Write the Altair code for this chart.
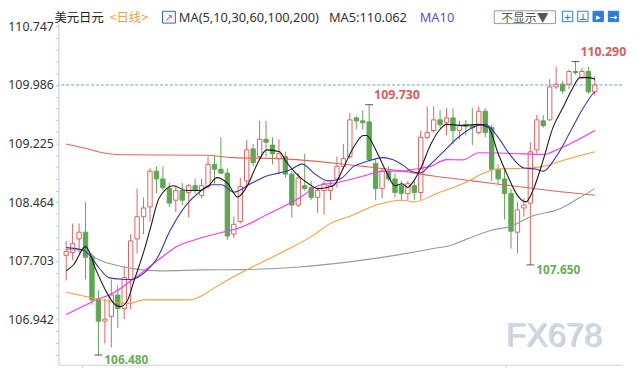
import altair as alt
import pandas as pd

FONT = "Noto Sans"
CJK = "Noto Sans CJK SC"
RED = "#e4605e"
GREEN = "#5ea652"

# ---- daily candles (USD/JPY) ----
opens = [107.774, 107.812, 107.987, 108.075, 107.761, 107.196, 106.920, 106.982, 107.259, 107.083,
         107.460, 107.987, 108.276, 108.402, 108.867, 108.766, 108.640, 108.490, 108.615, 108.590,
         108.678, 108.553, 108.666, 108.955, 108.892, 108.842, 108.050, 108.213, 108.741, 109.156,
         109.055, 109.281, 109.206, 109.030, 109.055, 108.829, 108.427, 108.678, 108.653, 108.527,
         108.615, 108.615, 108.766, 108.929, 109.055, 109.558, 109.520, 109.507, 108.967, 108.640,
         108.867, 108.766, 108.678, 108.578, 108.678, 108.590, 109.306, 109.394, 109.533, 109.495,
         109.558, 109.394, 109.470, 109.457, 109.369, 109.645, 109.432, 108.892, 108.766, 108.578,
         108.075, 108.389, 108.452, 109.143, 109.520, 109.533, 109.960, 109.997, 109.997, 110.161,
         110.085, 110.161, 109.897]
closes = [107.825, 107.925, 108.075, 107.749, 107.196, 106.920, 106.945, 107.259, 107.083, 107.485,
          107.962, 108.276, 108.389, 108.867, 108.766, 108.653, 108.452, 108.615, 108.490, 108.678,
          108.615, 108.678, 108.955, 108.892, 108.842, 108.025, 108.176, 108.666, 109.143, 108.980,
          109.281, 109.243, 109.093, 109.093, 108.829, 108.427, 108.779, 108.640, 108.527, 108.615,
          108.703, 108.678, 108.929, 109.030, 109.533, 109.520, 109.495, 109.017, 108.640, 108.867,
          108.766, 108.590, 108.578, 108.703, 108.590, 109.306, 109.369, 109.533, 109.470, 109.558,
          109.394, 109.457, 109.445, 109.432, 109.645, 109.369, 108.892, 108.766, 108.578, 108.088,
          108.364, 108.427, 109.118, 109.533, 109.457, 109.960, 109.997, 109.909, 110.161, 110.148,
          110.161, 109.897, 109.986]
highs = [107.962, 108.188, 108.188, 108.465, 107.799, 107.321, 107.208, 107.460, 107.384, 107.636,
         108.050, 108.640, 108.527, 108.904, 108.929, 108.929, 108.716, 108.678, 108.716, 108.703,
         108.766, 108.766, 109.055, 109.080, 109.306, 108.904, 108.276, 108.779, 109.269, 109.218,
         109.520, 109.520, 109.306, 109.281, 109.118, 108.867, 108.842, 109.093, 108.741, 108.653,
         108.741, 108.741, 109.055, 109.218, 109.620, 109.583, 109.658, 109.730, 109.030, 108.904,
         108.929, 108.842, 108.741, 108.741, 108.741, 109.394, 109.708, 109.708, 109.658, 109.683,
         109.683, 109.520, 109.533, 109.683, 109.708, 109.683, 109.470, 108.955, 108.892, 108.640,
         108.465, 108.515, 109.243, 109.595, 109.595, 110.060, 110.223, 110.035, 110.186, 110.290,
         110.211, 110.223, 110.098]
lows = [107.448, 107.711, 107.799, 107.460, 107.133, 106.480, 106.631, 106.580, 106.832, 106.945,
        107.070, 107.799, 108.050, 108.213, 108.578, 108.615, 108.402, 108.339, 108.427, 108.264,
        108.578, 108.515, 108.640, 108.703, 108.829, 107.975, 108.000, 108.188, 108.678, 108.929,
        109.017, 109.055, 108.955, 108.829, 108.779, 108.264, 108.402, 108.615, 108.490, 108.326,
        108.301, 108.490, 108.653, 108.892, 109.030, 109.407, 109.407, 108.992, 108.490, 108.515,
        108.741, 108.527, 108.490, 108.490, 108.490, 108.490, 109.281, 109.369, 109.432, 109.331,
        109.218, 109.281, 109.331, 109.206, 109.344, 109.306, 108.741, 108.703, 108.239, 107.862,
        107.799, 108.276, 107.650, 109.093, 109.432, 109.520, 109.934, 109.872, 109.934, 110.123,
        110.060, 109.872, 109.847]

# ---- moving averages (candle index, price) ----
ma5_x = [0, 1.15, 3.0, 4.6, 6.1, 7.6, 8.4, 9.4, 10.6, 12.1, 13.1, 14.4, 16.6, 18.6, 20.6, 22.1, 23.4,
         24.1, 25.1, 26.6, 28.1, 29.6, 31.1, 33.1, 34.1, 35.6, 37.6, 39.1, 40.6, 41.6, 43.1, 44.6, 46.1,
         46.6, 48.1, 49.6, 51.0, 52.1, 53.0, 53.7, 55.0, 56.5, 58.0, 59.0, 61.5, 64.0, 65.5, 67.0, 68.5,
         70.0, 71.3, 72.5, 74.0, 75.5, 77.0, 78.5, 79.7, 81.0, 82.0]
ma5_v = [107.573, 107.652, 107.887, 107.589, 107.321, 107.133, 107.108, 107.171, 107.464, 107.841,
         108.138, 108.515, 108.678, 108.615, 108.615, 108.678, 108.783, 108.766, 108.703, 108.531,
         108.678, 108.955, 109.143, 109.118, 108.992, 108.842, 108.703, 108.640, 108.657, 108.691,
         108.929, 109.181, 109.331, 109.331, 109.130, 108.867, 108.678, 108.703, 108.657, 108.716,
         108.904, 109.206, 109.411, 109.474, 109.461, 109.474, 109.432, 109.097, 108.804, 108.553,
         108.468, 108.637, 109.014, 109.432, 109.683, 109.934, 110.081, 110.081, 110.062]
ma10_x = [0, 2.65, 3.6, 5.1, 6.6, 8.6, 10.1, 12.1, 14.1, 16.1, 18.6, 20.6, 22.6, 24.1, 26.0, 28.6, 31.1,
          33.1, 34.6, 36.6, 38.6, 40.6, 42.5, 44.6, 46.6, 49.1, 50.6, 52.5, 53.5, 55.0, 56.5, 58.5, 60.5,
          63.0, 65.0, 67.0, 68.7, 71.0, 73.0, 74.0, 76.0, 78.0, 79.9, 81.7, 82.0]
ma10_v = [107.874, 107.841, 107.778, 107.610, 107.485, 107.464, 107.460, 107.548, 107.736, 108.092,
          108.427, 108.590, 108.691, 108.691, 108.594, 108.703, 108.804, 108.845, 108.879, 108.958,
          108.829, 108.741, 108.766, 108.929, 108.992, 109.043, 109.017, 108.929, 108.867, 108.845,
          108.955, 109.118, 109.285, 109.432, 109.474, 109.306, 109.097, 108.908, 108.892, 108.867,
          109.055, 109.348, 109.645, 109.872, 109.900]
ma30_x = [0, 3.1, 4.6, 7.1, 10.1, 12.1, 14.6, 17.1, 19.6, 23.1, 27.1, 31.1, 36.1, 39.1, 42.1, 46.1, 49.1,
          52.1, 54.0, 56.5, 59.0, 61.5, 64.0, 69.0, 74.0, 76.5, 82.0]
ma30_v = [107.007, 107.133, 107.196, 107.275, 107.447, 107.573, 107.736, 107.887, 107.966, 108.050,
          108.138, 108.301, 108.515, 108.678, 108.720, 108.804, 108.867, 108.867, 108.892, 108.929,
          109.017, 109.013, 109.105, 109.097, 109.084, 109.159, 109.394]
ma60_x = [0, 4.6, 7.1, 9.6, 12.1, 19.1, 20.6, 23.6, 27.1, 33.1, 38.6, 40.7, 44.6, 48.1, 52.1, 54.0, 57.5,
          61.5, 64.5, 66.5, 71.6, 74.0, 76.5, 82.0]
ma60_v = [107.296, 107.212, 107.171, 107.149, 107.196, 107.196, 107.233, 107.384, 107.548, 107.799,
          108.050, 108.176, 108.301, 108.427, 108.490, 108.468, 108.578, 108.703, 108.829, 108.892,
          108.908, 108.929, 108.992, 109.118]
ma100_x = [0, 3.0, 4.6, 7.6, 10.6, 14.6, 21.1, 27.1, 36.1, 43.6, 51.0, 57.0, 60.0, 61.5, 66.0, 69.0, 72.0,
           76.5, 79.5, 82.0]
ma100_v = [107.849, 107.837, 107.736, 107.648, 107.598, 107.573, 107.585, 107.589, 107.623, 107.686,
           107.774, 107.862, 107.912, 107.962, 108.100, 108.151, 108.276, 108.377, 108.515, 108.640]
ma200_x = [0, 2.1, 6.6, 8.7, 21.6, 26.0, 33.1, 42.1, 46.1, 52.1, 57.0, 63.0, 69.0, 75.0, 82.0]
ma200_v = [109.218, 109.181, 109.093, 109.080, 109.074, 109.043, 109.030, 108.967, 108.929, 108.867,
           108.804, 108.741, 108.678, 108.615, 108.553]

y_ticks = [110.747, 109.986, 109.225, 108.464, 107.703, 106.942]
x_ticks = [2.5, 68.2]
last_price = [109.986]
hi_idx, hi_val, hi_txt = [47, 79], [109.730, 110.290], ["109.730", "110.290"]
lo_idx, lo_val, lo_txt = [72, 5], [107.650, 106.480], ["107.650", "106.480"]

# ---- frames ----
idx = list(range(len(opens)))
candles = pd.DataFrame({"i": idx, "open": opens, "close": closes, "high": highs, "low": lows})
up = candles[candles["close"] >= candles["open"]]
down = candles[candles["close"] < candles["open"]]

# minor ticks between major labels
majors = sorted(y_ticks)
step = (majors[1] - majors[0]) / 5
tick_vals = list(majors)
for a, b in zip(majors[:-1], majors[1:]):
    tick_vals += [a + (b - a) * k / 5 for k in range(1, 5)]
tick_vals += [majors[0] - step * k for k in range(1, 4)]

label_list = ",".join("'%.3f'" % v for v in y_ticks)
label_expr = "indexof([%s], format(datum.value, '.3f')) >= 0 ? format(datum.value, '.3f') : ''" % label_list

xs = alt.Scale(domain=[-0.45, 85.47], nice=False, zero=False)
ys = alt.Scale(domain=[106.354, 110.789], nice=False, zero=False)
xaxis = alt.Axis(values=x_ticks, labels=False, title=None, grid=False, tickSize=5,
                 tickColor="#c9d3de", domainColor="#c9d3de")
yaxis = alt.Axis(values=tick_vals, labelExpr=label_expr, title=None, grid=False, tickSize=3,
                 tickColor="#b7cbe3", domainColor="#b7cbe3", labelColor="#333333",
                 labelFont=FONT, labelFontSize=12.5, labelPadding=2, labelOverlap=False)


def X(field="i"):
    return alt.X(field + ":Q", scale=xs, axis=xaxis)


def Y(field):
    return alt.Y(field + ":Q", scale=ys, axis=yaxis)


layers = []
# wicks
layers.append(alt.Chart(up).mark_rule(color=RED, strokeWidth=1).encode(x=X(), y=Y("low"), y2="high:Q"))
layers.append(alt.Chart(down).mark_rule(color=GREEN, strokeWidth=1).encode(x=X(), y=Y("low"), y2="high:Q"))
# bodies
layers.append(alt.Chart(down).mark_bar(fill=GREEN, stroke=GREEN, strokeWidth=1, size=4.4)
              .encode(x=X(), y=Y("open"), y2="close:Q"))
layers.append(alt.Chart(up).mark_bar(fill="#ffffff", stroke=RED, strokeWidth=1, size=4.4)
              .encode(x=X(), y=Y("open"), y2="close:Q"))

# moving averages
ma_sets = [
    (ma200_x, ma200_v, "#e8625c"),
    (ma100_x, ma100_v, "#9a9a9a"),
    (ma60_x, ma60_v, "#ff9a3a"),
    (ma30_x, ma30_v, "#ff30ff"),
    (ma10_x, ma10_v, "#3636b4"),
    (ma5_x, ma5_v, "#1a1a1a"),
]
for xv, vv, col in ma_sets:
    df = pd.DataFrame({"i": xv[:len(vv)], "v": vv[:len(xv)]})
    layers.append(alt.Chart(df).mark_line(color=col, strokeWidth=1.1, interpolate="monotone")
                  .encode(x=X(), y=Y("v")))

# last price dashed line
layers.append(alt.Chart(pd.DataFrame({"p": last_price}))
              .mark_rule(color="#5b9fe6", strokeDash=[3, 2], strokeWidth=1)
              .encode(y=Y("p")))

# extreme markers and labels
hi_df = pd.DataFrame({"i": hi_idx, "v": hi_val, "t": hi_txt})
lo_df = pd.DataFrame({"i": lo_idx, "v": lo_val, "t": lo_txt})
for df in (hi_df, lo_df):
    layers.append(alt.Chart(df).mark_tick(orient="horizontal", size=8, thickness=1, color="#111111")
                  .encode(x=X(), y=Y("v")))
layers.append(alt.Chart(hi_df).mark_text(align="left", baseline="middle", dx=5, dy=-10, font=FONT,
                                          fontSize=12.5, fontWeight="bold", color="#e05a58")
              .encode(x=X(), y=Y("v"), text="t:N"))
layers.append(alt.Chart(lo_df).mark_text(align="left", baseline="middle", dx=6, dy=5, font=FONT,
                                          fontSize=12, fontWeight="bold", color="#68ad55")
              .encode(x=X(), y=Y("v"), text="t:N"))

ONE = pd.DataFrame({"k": [0]})


def text(t, x, y, color="#333333", size=13, font=FONT, align="left", weight="normal"):
    return alt.Chart(ONE).mark_text(text=t, align=align, baseline="middle", fontSize=size, font=font,
                                    color=color, fontWeight=weight).encode(x=alt.value(x), y=alt.value(y))


def box(x1, x2, y1, y2, fill, stroke):
    return alt.Chart(ONE).mark_rect(fill=fill, stroke=stroke, strokeWidth=1).encode(
        x=alt.value(x1), x2=alt.value(x2), y=alt.value(y1), y2=alt.value(y2))


# watermark
layers.append(text("FX678", 454.5, 318.5, color="#d8ccc0", size=33, font="Liberation Sans"))
layers.append(text("FX678", 453, 317, color="#c6daf0", size=33, font="Liberation Sans"))

# header
HY = -5.5
layers.append(text("美元日元", -4, HY, color="#222222", size=12.5, font=CJK))
layers.append(text("<日线>", 52, HY, color="#f2a044", size=12.5, font=CJK))
layers.append(box(105.5, 118.5, -12, 0, "#f3f5ff", "#3a5bbf"))
layers.append(text("↗", 112, -5.5, color="#d8404e", size=10, font="DejaVu Sans", align="center"))
layers.append(text("MA(5,10,30,60,100,200)", 122, HY, color="#333333", size=13))
layers.append(text("MA5:110.062", 274, HY, color="#333333", size=13))
layers.append(text("MA10", 366, HY, color="#5b50d0", size=13))
layers.append(box(441.5, 503.5, -12.5, 0.5, "#ffffff", "#8e9aa8"))
layers.append(text("不显示▼", 472.5, -5.5, color="#555555", size=12, font=CJK, align="center"))
icon_x = [510.5, 526, 541.5, 557]
icon_fill = ["#ffffff", "#ffffff", "#2f7bd8", "#2f7bd8"]
icon_glyph = ["+", "⊥", "▸", "→"]
icon_col = ["#2f7bd8", "#2f7bd8", "#ffffff", "#ffffff"]
for ix, fi, gl, gc in zip(icon_x, icon_fill, icon_glyph, icon_col):
    layers.append(box(ix, ix + 10.5, -12, -1.5, fi, "#2f7bd8"))
    layers.append(text(gl, ix + 5.25, -6.5, color=gc, size=9, font="DejaVu Sans", align="center",
                       weight="bold"))

chart = alt.layer(*layers).properties(
    width=571, height=346,
    padding={"left": 51, "top": 13, "right": 10, "bottom": 1},
    autosize=alt.AutoSizeParams(type="none"),
    background="#ffffff",
).configure_view(stroke=None)

chart.save("out.html", embed_options={"renderer": "svg", "actions": False})
